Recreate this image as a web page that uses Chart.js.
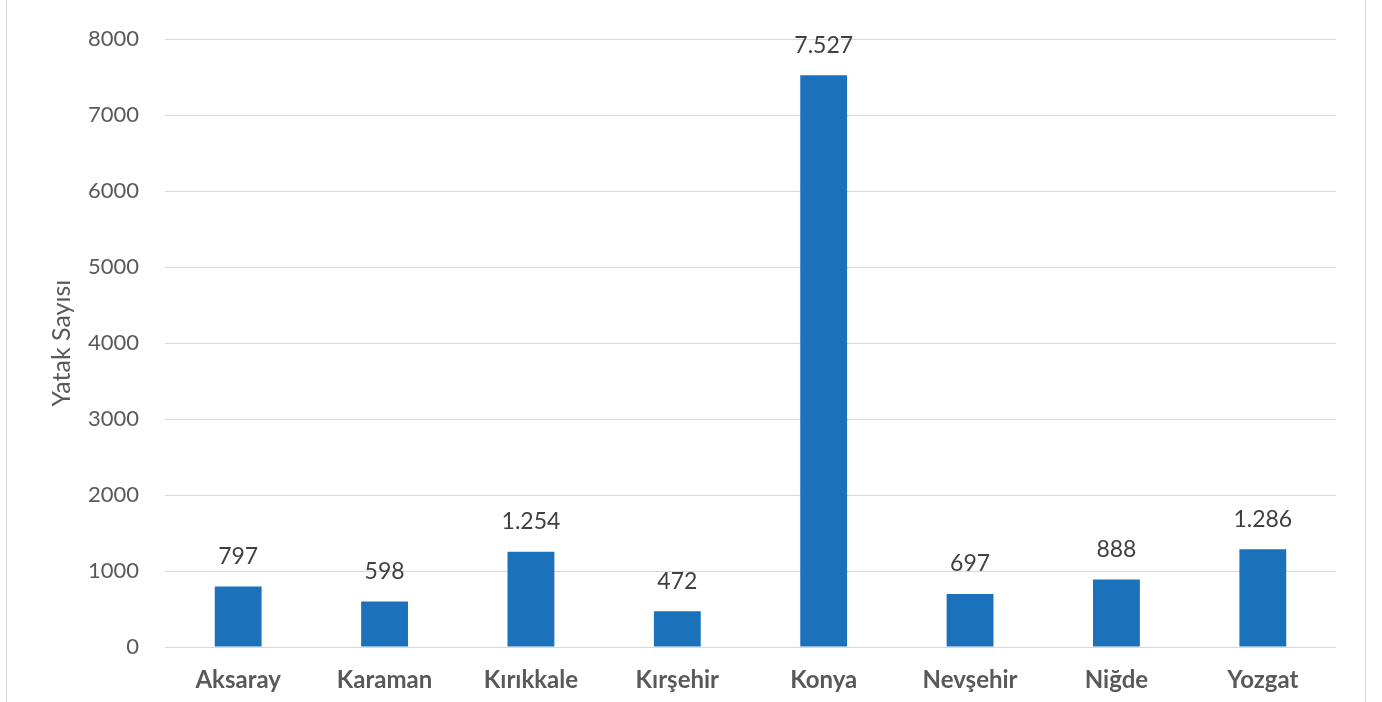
<!DOCTYPE html>
<html>
<head>
<meta charset="utf-8">
<script src="https://cdn.jsdelivr.net/npm/chart.js@4.4.1/dist/chart.umd.min.js"></script>
<style>
  html, body { margin: 0; padding: 0; background: #ffffff; }
  #wrap { width: 1382px; height: 702px; position: relative; }
</style>
</head>
<body>
<div id="wrap"><canvas id="c" width="1382" height="702"></canvas></div>
<script>
const categories = ["Aksaray", "Karaman", "Kırıkkale", "Kırşehir", "Konya", "Nevşehir", "Niğde", "Yozgat"];
const yatakSayisi = [797, 598, 1254, 472, 7527, 697, 888, 1286];
const yTicks = [0, 1000, 2000, 3000, 4000, 5000, 6000, 7000, 8000];
const yTitle = "Yatak Sayısı";

const FONT = "Lato, 'Open Sans', 'DejaVu Sans', sans-serif";

function fmtTR(v) {
  const s = String(Math.round(v));
  return s.replace(/\B(?=(\d{3})+(?!\d))/g, ".");
}

const valueLabels = {
  id: "valueLabels",
  afterDatasetsDraw(chart) {
    const ctx = chart.ctx;
    const meta = chart.getDatasetMeta(0);
    const ds = chart.data.datasets[0].data;
    ctx.save();
    ctx.font = "23px " + FONT;
    ctx.fillStyle = "#404040";
    ctx.textAlign = "center";
    ctx.textBaseline = "middle";
    meta.data.forEach((bar, i) => {
      ctx.fillText(fmtTR(ds[i]), bar.x, bar.y - 30);
    });
    ctx.restore();
  }
};

const frame = {
  id: "frame",
  beforeDraw(chart) {
    const ctx = chart.ctx;
    ctx.save();
    ctx.strokeStyle = "#d9d9d9";
    ctx.lineWidth = 1;
    ctx.beginPath();
    ctx.moveTo(6.5, 0); ctx.lineTo(6.5, 702);
    ctx.moveTo(1365.5, 0); ctx.lineTo(1365.5, 702);
    ctx.stroke();
    ctx.restore();
  }
};

new Chart(document.getElementById("c"), {
  type: "bar",
  data: {
    labels: categories,
    datasets: [{
      data: yatakSayisi,
      backgroundColor: "#1b71ba",
      borderWidth: 0,
      categoryPercentage: 1,
      barPercentage: 0.32
    }]
  },
  options: {
    responsive: false,
    animation: false,
    devicePixelRatio: 1,
    layout: { padding: { left: 0, right: 46, top: 39, bottom: 0 } },
    plugins: { legend: { display: false }, tooltip: { enabled: false } },
    scales: {
      x: {
        grid: { display: false, drawTicks: false },
        border: { display: false },
        ticks: {
          padding: 19,
          color: "#595959",
          font: { family: FONT, size: 24, weight: "bold" },
          maxRotation: 0, autoSkip: false
        },
        afterFit(s) { s.height = 55; }
      },
      y: {
        min: 0, max: 8000,
        afterBuildTicks(s) { s.ticks = yTicks.map(v => ({ value: v })); },
        grid: { color: "#d9d9d9", lineWidth: 1, drawTicks: false },
        border: { display: false },
        ticks: {
          padding: 26,
          color: "#595959",
          font: { family: FONT, size: 22 },
          callback: v => String(v)
        },
        title: {
          display: true,
          text: yTitle,
          color: "#595959",
          font: { family: FONT, size: 25 },
          padding: { top: 47, bottom: 0 }
        },
        afterFit(s) { s.width = 165; }
      }
    }
  },
  plugins: [frame, valueLabels]
});
</script>
</body>
</html>
